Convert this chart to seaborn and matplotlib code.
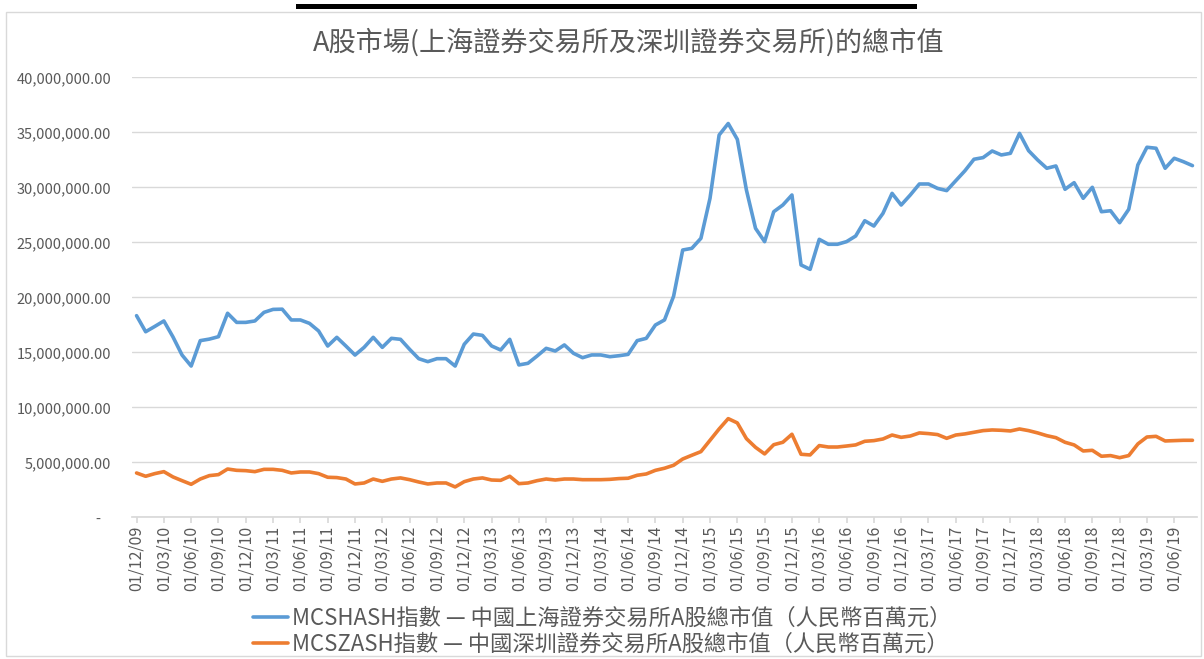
import numpy as np
import pandas as pd
import matplotlib
matplotlib.use("Agg")
import matplotlib.pyplot as plt
from matplotlib.ticker import FuncFormatter
from matplotlib.patches import Rectangle
import seaborn as sns

# monthly series, first month Dec 2009 (values in RMB million)
start_month = "2009-12-01"

sh_values = [18330000, 16870000, 17350000, 17850000, 16400000, 14750000, 13750000, 16060000,
             16200000, 16420000, 18550000, 17720000, 17720000, 17850000, 18630000, 18900000,
             18920000, 17940000, 17940000, 17630000, 16940000, 15570000, 16360000, 15570000,
             14750000, 15450000, 16360000, 15450000, 16270000, 16180000, 15270000, 14420000,
             14150000, 14420000, 14420000, 13750000, 15730000, 16660000, 16540000, 15580000,
             15210000, 16180000, 13850000, 14000000, 14660000, 15360000, 15120000, 15670000,
             14910000, 14510000, 14760000, 14760000, 14600000, 14690000, 14810000, 16060000,
             16270000, 17480000, 17940000, 20100000, 24300000, 24450000, 25360000, 29000000,
             34750000, 35800000, 34360000, 29750000, 26270000, 25060000, 27780000, 28390000,
             29300000, 22940000, 22540000, 25270000, 24820000, 24820000, 25060000, 25570000,
             26960000, 26480000, 27630000, 29450000, 28390000, 29300000, 30300000, 30300000,
             29900000, 29700000, 30600000, 31500000, 32550000, 32700000, 33300000, 32940000,
             33090000, 34900000, 33330000, 32480000, 31730000, 31940000, 29820000, 30420000,
             29000000, 30000000, 27780000, 27870000, 26780000, 28000000, 32030000, 33640000,
             33550000, 31730000, 32640000, 32330000, 31970000]

sz_values = [4030000, 3730000, 3970000, 4150000, 3670000, 3330000, 3000000, 3480000,
             3790000, 3880000, 4390000, 4270000, 4240000, 4150000, 4360000, 4360000,
             4270000, 4030000, 4120000, 4120000, 3970000, 3640000, 3610000, 3480000,
             3030000, 3120000, 3480000, 3270000, 3480000, 3580000, 3420000, 3210000,
             3030000, 3120000, 3120000, 2760000, 3240000, 3480000, 3580000, 3390000,
             3360000, 3730000, 3060000, 3120000, 3330000, 3480000, 3390000, 3480000,
             3480000, 3420000, 3420000, 3420000, 3450000, 3520000, 3550000, 3820000,
             3940000, 4270000, 4460000, 4730000, 5300000, 5640000, 5970000, 7000000,
             8030000, 8970000, 8580000, 7150000, 6360000, 5760000, 6600000, 6820000,
             7550000, 5730000, 5670000, 6520000, 6390000, 6390000, 6480000, 6580000,
             6910000, 6970000, 7120000, 7480000, 7270000, 7390000, 7670000, 7610000,
             7520000, 7180000, 7480000, 7580000, 7730000, 7880000, 7940000, 7910000,
             7850000, 8030000, 7880000, 7670000, 7420000, 7240000, 6820000, 6580000,
             6030000, 6090000, 5550000, 5610000, 5420000, 5610000, 6670000, 7300000,
             7360000, 6940000, 6970000, 7000000, 7000000]

sh_label = "MCSHASH指數 — 中國上海證券交易所A股總市值（人民幣百萬元）"
sz_label = "MCSZASH指數 — 中國深圳證券交易所A股總市值（人民幣百萬元）"
title = "A股市場(上海證券交易所及深圳證券交易所)的總市值"

months = pd.date_range(start_month, periods=len(sh_values), freq="MS")
df = pd.DataFrame({"idx": np.arange(len(months)), sh_label: sh_values, sz_label: sz_values})
long_df = df.melt(id_vars="idx", var_name="series", value_name="value")

sns.set_theme(style="white")
plt.rcParams["font.family"] = ["Noto Sans CJK TC", "DejaVu Sans"]

grey_txt = "#595959"
grid_c = "#d9d9d9"

fig = plt.figure(figsize=(12.04, 6.59), dpi=100)
ax = fig.add_axes([132 / 1204, 1 - 517.3 / 659, 1065 / 1204, 440 / 659])

sns.lineplot(data=long_df, x="idx", y="value", hue="series",
             palette=["#5B9BD5", "#ED7D31"], linewidth=2.6, ax=ax)

ax.set_xlim(-0.5, len(months) - 0.5)
ax.set_ylim(0, 40e6)
ax.set_yticks(np.arange(0, 40e6 + 1, 5e6))
ax.yaxis.set_major_formatter(FuncFormatter(lambda v, p: f"{v:,.2f}" if v else "-   "))
ticks = np.arange(0, len(months), 3)
ax.set_xticks(ticks)
ax.set_xticklabels(months[ticks].strftime("%d/%m/%y"), rotation=90)
ax.set_xlabel("")
ax.set_ylabel("")

ax.yaxis.grid(True, color=grid_c, linewidth=1)
ax.xaxis.grid(False)
for s in ["left", "top", "right"]:
    ax.spines[s].set_visible(False)
ax.spines["bottom"].set_color(grid_c)
ax.tick_params(axis="x", bottom=True, length=4, color=grid_c, pad=2,
               labelsize=11.5, labelcolor=grey_txt)
ax.tick_params(axis="y", length=0, pad=15, labelsize=10.5, labelcolor=grey_txt)

sns.move_legend(ax, "upper left", bbox_to_anchor=(242 / 1204, 1 - 596 / 659),
                bbox_transform=fig.transFigure, frameon=False, title=None,
                fontsize=16, handlelength=1.55, handletextpad=0.2,
                labelspacing=0.12, borderpad=0, labelcolor=grey_txt)

fig.text(629 / 1204, 1 - 42 / 659, title, ha="center", va="center", fontsize=19.5, color=grey_txt)

# chart frame and the cut-off underline above it
fig.add_artist(Rectangle((6 / 1204, 3 / 659), 1195 / 1204, 644 / 659,
                         transform=fig.transFigure, fill=False, edgecolor=grid_c, lw=1))
fig.add_artist(Rectangle((296 / 1204, 1 - 9 / 659), 621 / 1204, 5 / 659,
                         transform=fig.transFigure, facecolor="black", edgecolor="none"))

fig.savefig("out.png", dpi=100)
